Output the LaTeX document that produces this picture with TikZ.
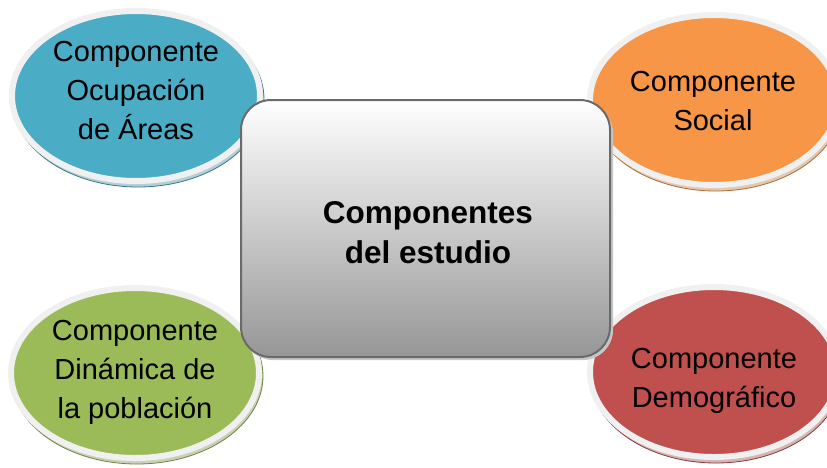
\documentclass[tikz,border=0pt]{standalone}
\usepackage{fontspec}
\setmainfont{Liberation Sans}
\usetikzlibrary{shapes.geometric,shadows}
\definecolor{cblue}{HTML}{4BACC6}
\definecolor{corange}{HTML}{F79646}
\definecolor{cgreen}{HTML}{9BBB59}
\definecolor{cred}{HTML}{C0504D}
\definecolor{ring}{HTML}{F0F0F0}
\definecolor{boxline}{HTML}{6A6A6A}
\definecolor{boxbot}{HTML}{969696}
\tikzset{
  comp/.style={ellipse, minimum width=248pt, minimum height=170pt, inner sep=0pt,
    line width=6pt, draw=ring, fill=#1},
  edge3d/.style={fill=#1!35!white!80!gray, draw=#1!70!black, line width=0.8pt},
  ctext/.style={align=center, font=\fontsize{29}{39}\selectfont, text=black, inner sep=0pt},
}
\begin{document}
\begin{tikzpicture}[x=1pt,y=-1pt]
\useasboundingbox (0,0) rectangle (827,467);
% 3d edges
\filldraw[edge3d=cblue] (138,99) ellipse [x radius=126pt, y radius=88pt];
\filldraw[edge3d=corange] (716,103) ellipse [x radius=126pt, y radius=88pt];
\filldraw[edge3d=cgreen] (137,376) ellipse [x radius=126pt, y radius=88pt];
\filldraw[edge3d=cred] (716,375) ellipse [x radius=126pt, y radius=88pt];
% ellipses
\node[comp=cblue] (ocup) at (136,96) {};
\node[comp=corange] (soc) at (714,100) {};
\node[comp=cgreen] (din) at (135,373) {};
\node[comp=cred] (dem) at (714,372) {};
\node[ctext] (ocupT) at (136,91) {Componente\\Ocupación\\de Áreas};
\node[ctext] (socT) at (713,101) {Componente\\Social};
\node[ctext] (dinT) at (135,372) {Componente\\Dinámica de\\la población};
\node[ctext] (demT) at (714,381) {Componente\\Demográfico};
% center box
\fill[gray!45, rounded corners=30pt] (243,103) rectangle (613,360);
\node[draw=boxline, line width=2pt, rounded corners=30pt, minimum width=369pt,
  minimum height=257pt, top color=white, bottom color=boxbot, inner sep=0pt] (cen) at (425.5,228.5) {};
\node[align=center, font=\bfseries\fontsize{31.5}{40}\selectfont, inner sep=0pt] (cenT) at (428,233) {Componentes\\del estudio};
\end{tikzpicture}
\end{document}
